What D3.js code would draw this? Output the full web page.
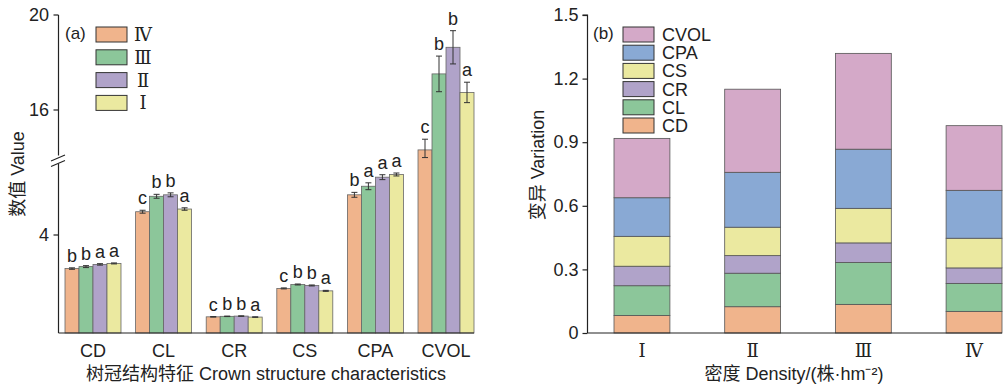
<!DOCTYPE html>
<html>
<head>
<meta charset="utf-8">
<script src="https://cdn.jsdelivr.net/npm/d3@7"></script>
<style>
  body { margin: 0; background: #fff; }
  text { font-family: "Liberation Sans", Arial, sans-serif; fill: #222; }
  .cn { font-family: "Liberation Sans", "Noto Sans CJK SC", sans-serif; }
  .roman { font-family: "Liberation Serif", "DejaVu Serif", "Noto Sans CJK SC", serif; }
</style>
</head>
<body>
<div id="chart"></div>
<script>

// ---- data (a) ----
var traits = ["CD", "CL", "CR", "CS", "CPA", "CVOL"];
var levels = ["Ⅳ", "Ⅲ", "Ⅱ", "Ⅰ"];
var meanIV  = [2.63, 4.95, 0.66, 1.82, 5.64, 14.32];
var meanIII = [2.71, 5.58, 0.68, 1.98, 5.99, 17.52];
var meanII  = [2.80, 5.64, 0.69, 1.94, 6.36, 18.64];
var meanI   = [2.84, 5.06, 0.65, 1.72, 6.47, 16.74];
var errIV   = [0.03, 0.06, 0.01, 0.02, 0.10, 0.45];
var errIII  = [0.04, 0.08, 0.01, 0.02, 0.14, 0.75];
var errII   = [0.03, 0.08, 0.01, 0.02, 0.10, 0.70];
var errI    = [0.02, 0.05, 0.01, 0.02, 0.06, 0.43];
var sigIV   = ["b", "c", "c", "c", "b", "c"];
var sigIII  = ["b", "b", "b", "b", "a", "b"];
var sigII   = ["a", "b", "b", "b", "a", "b"];
var sigI    = ["a", "a", "a", "a", "a", "a"];
var ticksA  = [4, 16, 20];

// ---- data (b) ----
var densities = ["Ⅰ", "Ⅱ", "Ⅲ", "Ⅳ"];
var parts = ["CD", "CL", "CR", "CS", "CPA", "CVOL"];
var cvCD   = [0.083, 0.124, 0.135, 0.102];
var cvCL   = [0.140, 0.158, 0.198, 0.132];
var cvCR   = [0.092, 0.083, 0.092, 0.073];
var cvCS   = [0.141, 0.134, 0.163, 0.140];
var cvCPA  = [0.182, 0.259, 0.279, 0.226];
var cvCVOL = [0.280, 0.392, 0.452, 0.305];
var ticksB = [0, 0.3, 0.6, 0.9, 1.2, 1.5];

var levelColor = {"Ⅳ": "#f0b48c", "Ⅲ": "#8cc69a", "Ⅱ": "#b0a3c9", "Ⅰ": "#ebe9a0"};
var partColor = {CD: "#f0b48c", CL: "#8cc69a", CR: "#b0a3c9", CS: "#ebe9a0", CPA: "#89a9d4", CVOL: "#d4a9c8"};

var svg = d3.select("#chart").append("svg")
    .attr("width", 1003)
    .attr("height", 388);

// =========== panel (a) ===========
var meansA = [meanIV, meanIII, meanII, meanI],
    errsA = [errIV, errIII, errII, errI],
    sigsA = [sigIV, sigIII, sigII, sigI];

var rowsA = [];
traits.forEach(function(t, i) {
    levels.forEach(function(l, j) {
        rowsA.push({trait: t, level: l, v: meansA[j][i], e: errsA[j][i], s: sigsA[j][i]});
    });
});

var xA = d3.scaleBand().domain(traits).range([65, 474]).paddingInner(0.207).paddingOuter(0);
var xA2 = d3.scaleBand().domain(levels).range([0, xA.bandwidth()]);
// broken axis: 0-7 below the break, 14-20 above
var yA = d3.scaleLinear().domain([0, 7, 14, 20]).range([333, 161.5, 157.5, 15]);

var gA = svg.append("g");

gA.selectAll(".barA")
    .data(rowsA)
    .enter()
    .append("rect")
    .attr("class", "barA")
    .attr("x", function(d) { return xA(d.trait) + xA2(d.level); })
    .attr("width", xA2.bandwidth())
    .attr("y", function(d) { return yA(d.v); })
    .attr("height", function(d) { return yA(0) - yA(d.v); })
    .attr("fill", function(d) { return levelColor[d.level]; })
    .attr("stroke", "#666")
    .attr("stroke-width", 0.8);

// error bars
var eb = gA.selectAll(".err")
    .data(rowsA)
    .enter()
    .append("g")
    .attr("class", "err")
    .attr("transform", function(d) { return "translate(" + (xA(d.trait) + xA2(d.level) + xA2.bandwidth() / 2) + ",0)"; });

eb.append("line")
    .attr("y1", function(d) { return yA(d.v - d.e); })
    .attr("y2", function(d) { return yA(d.v + d.e); })
    .attr("stroke", "#333").attr("stroke-width", 1);
eb.append("line")
    .attr("x1", -3).attr("x2", 3)
    .attr("y1", function(d) { return yA(d.v + d.e); })
    .attr("y2", function(d) { return yA(d.v + d.e); })
    .attr("stroke", "#333").attr("stroke-width", 1);
eb.append("line")
    .attr("x1", -3).attr("x2", 3)
    .attr("y1", function(d) { return yA(d.v - d.e); })
    .attr("y2", function(d) { return yA(d.v - d.e); })
    .attr("stroke", "#333").attr("stroke-width", 1);

eb.append("text")
    .attr("text-anchor", "middle")
    .attr("y", function(d) { return yA(d.v + d.e) - 6; })
    .style("font-size", "18px")
    .text(function(d) { return d.s; });

// axes
gA.append("line")
    .attr("x1", 58.5).attr("x2", 474).attr("y1", 333).attr("y2", 333)
    .attr("stroke", "#222").attr("stroke-width", 1.2);
gA.append("line")
    .attr("x1", 58.5).attr("x2", 58.5).attr("y1", 333).attr("y2", 163.5)
    .attr("stroke", "#222").attr("stroke-width", 1.2);
gA.append("line")
    .attr("x1", 58.5).attr("x2", 58.5).attr("y1", 155.5).attr("y2", 15)
    .attr("stroke", "#222").attr("stroke-width", 1.2);
// break marks
[158, 163.5].forEach(function(yy) {
    gA.append("line")
        .attr("x1", 51).attr("x2", 65).attr("y1", yy + 3).attr("y2", yy - 3)
        .attr("stroke", "#222").attr("stroke-width", 1.1);
});

gA.selectAll(".tickA")
    .data(ticksA)
    .enter()
    .append("line")
    .attr("x1", 53.5).attr("x2", 58.5)
    .attr("y1", function(d) { return yA(d); })
    .attr("y2", function(d) { return yA(d); })
    .attr("stroke", "#222").attr("stroke-width", 1.2);

gA.selectAll(".tickLabA")
    .data(ticksA)
    .enter()
    .append("text")
    .attr("x", 49)
    .attr("y", function(d) { return yA(d); })
    .attr("dy", "0.36em")
    .attr("text-anchor", "end")
    .style("font-size", "18px")
    .text(function(d) { return d; });

gA.selectAll(".catA")
    .data(traits)
    .enter()
    .append("text")
    .attr("x", function(d) { return xA(d) + xA.bandwidth() / 2; })
    .attr("y", 357)
    .attr("text-anchor", "middle")
    .style("font-size", "18px")
    .text(function(d) { return d; });

gA.append("text")
    .attr("class", "cn")
    .attr("x", 266).attr("y", 380)
    .attr("text-anchor", "middle")
    .style("font-size", "18px")
    .text("树冠结构特征 Crown structure characteristics");

gA.append("text")
    .attr("class", "cn")
    .attr("transform", "translate(24,174) rotate(-90)")
    .attr("text-anchor", "middle")
    .style("font-size", "18px")
    .text("数值 Value");

gA.append("text")
    .attr("x", 65).attr("y", 39)
    .style("font-size", "17px")
    .text("(a)");

var legA = gA.selectAll(".legA")
    .data(levels)
    .enter()
    .append("g")
    .attr("transform", function(d, i) { return "translate(96," + (27 + i * 22.8) + ")"; });
legA.append("rect")
    .attr("width", 31).attr("height", 15)
    .attr("fill", function(d) { return levelColor[d]; })
    .attr("stroke", "#333").attr("stroke-width", 1);
legA.append("text")
    .attr("class", "roman")
    .attr("x", 47).attr("y", 7.5).attr("dy", "0.36em")
    .attr("text-anchor", "middle")
    .style("font-size", "18px")
    .text(function(d) { return d; });

// =========== panel (b) ===========
var cvs = [cvCD, cvCL, cvCR, cvCS, cvCPA, cvCVOL];
var tableB = densities.map(function(dn, i) {
    var row = {density: dn};
    parts.forEach(function(p, k) { row[p] = cvs[k][i]; });
    return row;
});

var stackB = d3.stack().keys(parts)(tableB);

var xB = d3.scaleBand().domain(densities).range([614, 1002]).paddingInner(0.495).paddingOuter(0);
var yB = d3.scaleLinear().domain([0, 1.5]).range([333, 15]);

var gB = svg.append("g");

gB.selectAll(".layer")
    .data(stackB)
    .enter()
    .append("g")
    .attr("fill", function(d) { return partColor[d.key]; })
    .selectAll("rect")
    .data(function(d) { return d; })
    .enter()
    .append("rect")
    .attr("x", function(d) { return xB(d.data.density); })
    .attr("width", xB.bandwidth())
    .attr("y", function(d) { return yB(d[1]); })
    .attr("height", function(d) { return yB(d[0]) - yB(d[1]); })
    .attr("stroke", "#555")
    .attr("stroke-width", 0.8);

gB.append("g")
    .attr("transform", "translate(587.5,0)")
    .call(d3.axisLeft(yB).tickValues(ticksB).tickSize(5).tickFormat(function(d) { return d === 0 ? "0" : d3.format(".1f")(d); }))
    .call(function(g) {
        g.select(".domain").attr("d", "M0,333V15H-5").attr("stroke", "#222").attr("stroke-width", 1.2);
        g.selectAll(".tick line").attr("stroke", "#222").attr("stroke-width", 1.2);
        g.selectAll(".tick text").attr("x", -9).style("font-size", "18px").style("font-family", "Liberation Sans, Arial, sans-serif").attr("fill", "#222");
    });

gB.append("line")
    .attr("x1", 587.5).attr("x2", 1002).attr("y1", 333).attr("y2", 333)
    .attr("stroke", "#222").attr("stroke-width", 1.2);

gB.selectAll(".catB")
    .data(densities)
    .enter()
    .append("text")
    .attr("class", "roman")
    .attr("x", function(d) { return xB(d) + xB.bandwidth() / 2; })
    .attr("y", 357)
    .attr("text-anchor", "middle")
    .style("font-size", "18px")
    .text(function(d) { return d; });

gB.append("text")
    .attr("class", "cn")
    .attr("x", 794).attr("y", 380)
    .attr("text-anchor", "middle")
    .style("font-size", "18px")
    .text("密度 Density/(株·hm⁻²)");

gB.append("text")
    .attr("class", "cn")
    .attr("transform", "translate(544,165) rotate(-90)")
    .attr("text-anchor", "middle")
    .style("font-size", "18px")
    .text("变异 Variation");

gB.append("text")
    .attr("x", 593).attr("y", 39)
    .style("font-size", "17px")
    .text("(b)");

var legB = gB.selectAll(".legB")
    .data(parts.slice().reverse())
    .enter()
    .append("g")
    .attr("transform", function(d, i) { return "translate(623," + (27 + i * 18.2) + ")"; });
legB.append("rect")
    .attr("width", 31).attr("height", 15)
    .attr("fill", function(d) { return partColor[d]; })
    .attr("stroke", "#333").attr("stroke-width", 1);
legB.append("text")
    .attr("x", 39).attr("y", 7.5).attr("dy", "0.36em")
    .style("font-size", "18px")
    .text(function(d) { return d; });

</script>
</body>
</html>
